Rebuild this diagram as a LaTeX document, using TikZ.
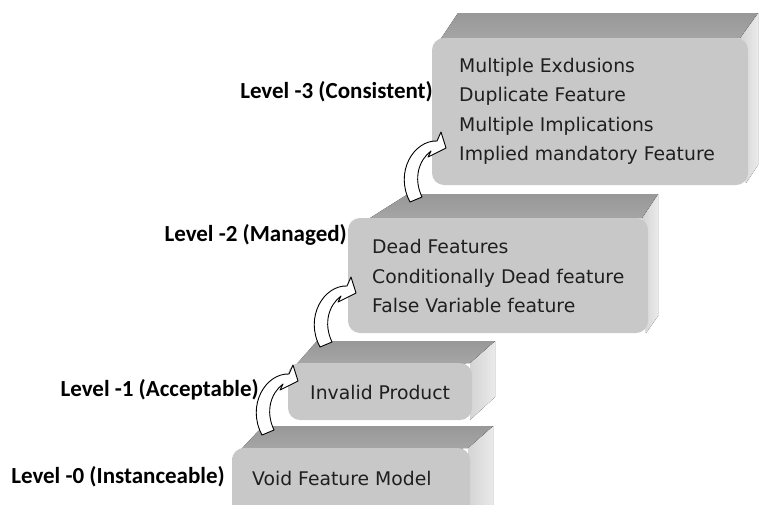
\documentclass[tikz,border=0pt]{standalone}
\usepackage{fontspec}
\newfontfamily\boxfont{DejaVu Sans}
\newfontfamily\lvlfont{Carlito}
\definecolor{frontgray}{RGB}{200,200,200}
\definecolor{topdark}{RGB}{152,152,152}
\definecolor{toplight}{RGB}{172,172,172}
\definecolor{sidea}{RGB}{212,212,212}
\definecolor{sideb}{RGB}{234,234,234}
\tikzset{
  frontface/.style={fill=frontgray, rounded corners=12pt, draw=none, inner sep=0pt},
  topface/.style={top color=topdark, bottom color=toplight, draw=none},
  sideface/.style={left color=sidea, right color=sideb, draw=none},
  boxtext/.style={font=\boxfont\fontsize{18.8}{29.5}\selectfont, align=left, anchor=west, inner sep=0pt, text=black!88},
  lvltext/.style={font=\lvlfont\bfseries\fontsize{23}{27}\selectfont, anchor=east, inner sep=0pt},
  blockarrow/.style={fill=white, draw=black, line width=0.9pt, line join=round},
  pics/curvedarrow/.style={code={
    \draw[blockarrow] (0,0) -- (12,-5) .. controls (3,-24) and (9,-42) .. (21,-51)
      -- (18,-45) -- (36,-54) -- (31,-70) -- (27,-61)
      .. controls (4,-62) and (-16,-30) .. (0,0) -- cycle;
  }}
}
\begin{document}
\begin{tikzpicture}[x=1pt,y=-1pt]
\clip (0,0) rectangle (760,504);
\fill[white] (0,0) rectangle (760,504);

% Box 3 (top)
\fill[sideface] (740,38) -- (758,13) -- (758,165) -- (746,183) -- cycle;
\fill[topface] (432,52) -- (458,13) -- (758,13) -- (740,38) -- cycle;
\node[frontface, minimum width=316, minimum height=147] (f3) at (590,111.5) {};

% Box 2
\fill[sideface] (642,218) -- (658,194) -- (658,316) -- (646,333) -- cycle;
\fill[topface] (348,232) -- (408,194) -- (658,194) -- (642,218) -- cycle;
\node[frontface, minimum width=300, minimum height=115] (f2) at (498,275.5) {};

% Box 1
\fill[sideface] (470,363) -- (495,341) -- (495,397) -- (470,420) -- cycle;
\fill[topface] (288,374) -- (317,341) -- (495,341) -- (470,363) -- cycle;
\node[frontface, minimum width=184, minimum height=57] (f1) at (380,391.5) {};

% Box 0
\fill[sideface] (468,448) -- (493,426) -- (493,510) -- (468,530) -- cycle;
\fill[topface] (232,459) -- (263,426) -- (493,426) -- (468,448) -- cycle;
\node[frontface, minimum width=238, minimum height=82] (f0) at (351,489) {};

% Box texts
\node[boxtext] (t3) at (459,111.5) {Multiple Exdusions\\Duplicate Feature\\Multiple Implications\\Implied mandatory Feature};
\node[boxtext] (t2) at (372,276) {Dead Features\\Conditionally Dead feature\\False Variable feature};
\node[boxtext] (t1) at (310,392) {Invalid Product};
\node[boxtext] (t0) at (252,478) {Void Feature Model};

% Level labels
\node[lvltext] (l3) at (433,92) {Level -3 (Consistent)};
\node[lvltext] (l2) at (347,235) {Level -2 (Managed)};
\node[lvltext] (l1) at (259,390) {Level -1 (Acceptable)};
\node[lvltext] (l0) at (225,477) {Level -0 (Instanceable)};

% Curved arrows
\pic (a3) at (410,202) {curvedarrow};
\pic (a2) at (320,347) {curvedarrow};
\pic (a1) at (262,435) {curvedarrow};
\end{tikzpicture}
\end{document}
